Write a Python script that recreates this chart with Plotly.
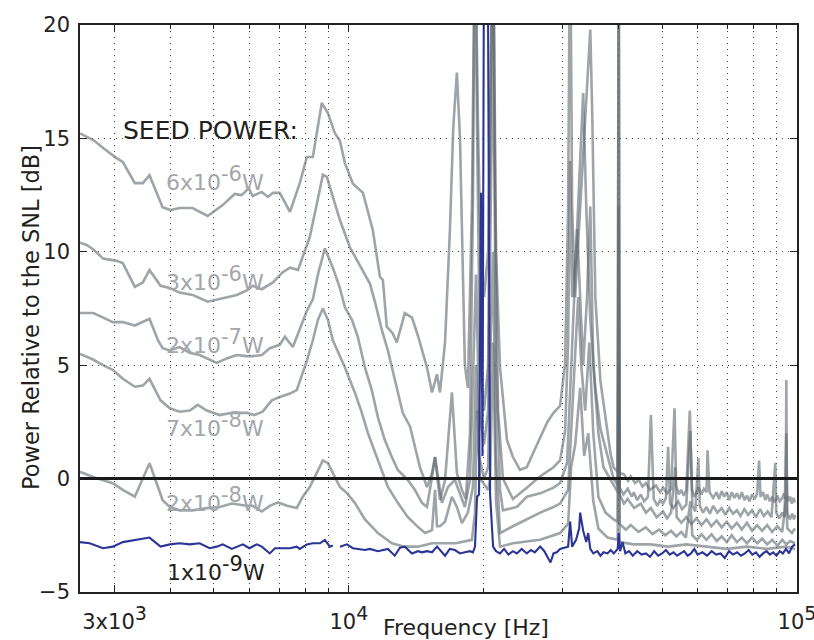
import plotly.graph_objects as go
import math

# ---------------- data (frequency in Hz, level in dB rel. SNL) ----------------
f_6e6 = [2512, 2690, 2830, 3030, 3130, 3330, 3470, 3590, 3840, 4000, 4190, 4480, 4840, 5230, 5560,
         5760, 5980, 6100, 6390, 6600, 6770, 7010, 7390, 7770, 8060, 8310, 8700, 8980, 9300, 9550,
         9800, 10210, 10750, 11310, 11730, 11910, 12150, 12530, 12790, 13330, 13830, 14260, 14940,
         15330, 15730, 15970, 16390, 16810, 17100, 17420, 17700, 18150, 18430, 18820, 19120, 19420,
         19720, 20030, 20450, 20660, 20980, 21300, 21740, 22530, 23230, 24090, 24950, 25730, 26720,
         27730, 28620, 29600, 30380, 30850, 31170, 31490, 31980, 32820, 33680, 34570, 34930, 35480,
         36420, 37380, 38370, 38970, 39800, 40000, 40200,
         41040, 42000, 42560, 43500, 44360, 45200, 45990, 47000, 48440, 49500, 50240, 51300, 52370,
         53300, 53750, 54500, 55170, 55900, 56620, 57650, 58300, 59000, 59640, 60400, 61210, 62000,
         62820, 63150, 63800, 65000, 66170, 67000, 67910, 68800, 69700, 70600, 71520, 72500, 73410,
         74400, 75340, 76300, 77330, 78300, 79370, 80500, 81500, 82300, 82900, 84000, 85000, 85800,
         87000, 88050, 89200, 90370, 91500, 92730, 93600, 94400, 94660, 94950, 95800, 96500, 97500,
         98200, 99000]
db_6e6 = [15.22, 14.93, 14.58, 14.13, 13.96, 13.03, 13.03, 13.38, 11.97, 11.84, 11.93, 11.93, 11.58, 12.06, 12.55,
          12.5, 12.8, 12.46, 12.64, 12.42, 12.6, 12.6, 11.76, 13.03, 14.18, 14.18, 16.56, 16.12, 15.24, 14.9,
          13.9, 13.0, 12.6, 10.95, 8.9, 8.75, 6.7, 6.4, 6.0, 7.3, 7.1, 6.3, 4.9,
          3.8, 4.6, 3.8, 6.0, 11.0, 15.5, 17.9, 15.0, 5.0, 4.0, 12.0, 25.0, 15.5,
          9.0, 8.0, 10.0, 15.5, 25.0, 10.0, 4.9, 1.7, 0.95, 0.38, 0.5, 1.1, 1.8,
          2.5, 2.9, 3.2, 5.1, 12.0, 25.0, 12.0, 8.0, 12.0, 16.0, 19.8, 16.0, 8.0,
          4.3, 2.6, 1.1, 0.5, 0.3, 25.0, 0.25,
          0.2, -0.1, 0.1, -0.2, -0.06, -0.35, -0.2, -0.5, -0.3, -0.6, -0.4, -0.65, -0.45,
          3.1, -0.3, -0.7, -0.5, -0.75, -0.5, 3.0, -0.5, -0.8, -0.6, -0.4, -0.7, -0.45,
          -0.6, 1.25, -0.6, -0.85, -0.6, -0.9, -0.55, -0.8, -0.6, -0.95, -0.6, -0.85, -0.65,
          -0.9, -0.6, -0.95, -0.75, -1.0, -0.7, -0.9, -0.65, 0.8, -0.8, -0.6, -0.95, -0.7,
          -1.0, -0.8, -1.05, -0.75, -1.0, -0.85, -0.65, -0.9, 4.35, -0.7, -1.0, -0.8, -1.1,
          -0.85, -1.05]

f_3e6 = [2512, 2600, 2690, 2830, 3030, 3130, 3330, 3470, 3590, 3800, 3985, 4190, 4480, 4840, 5230,
         5620, 5920, 6100, 6390, 6770, 7120, 7390, 7700, 7890, 8180, 8490, 8750, 8930, 9210, 9550,
         10050, 10580, 10860, 11140, 11430, 11850, 12220, 12660, 13190, 13690, 14040, 14410, 14940,
         15330, 15570, 15970, 16390, 16980, 17420, 17880, 18240, 18630, 18920, 19120, 19320, 19620,
         20030, 20450, 20660, 20980, 21190, 21520, 22070, 23230, 24950, 26720, 28620, 29600, 30380,
         30850, 31170, 31490, 32140, 32820, 33330, 33860, 34570, 35480, 36420, 37770, 38970, 39800,
         40000, 40200,
         41000, 41900, 42800, 43230, 44000, 44820, 45600, 46500, 47200, 47900, 48800, 49500, 50240,
         51000, 51570, 52100, 53000, 54300, 55400, 56620, 57800, 58400, 59300, 60260, 60700, 61700,
         62820, 63900, 65000, 66400, 67910, 69200, 70600, 72000, 73410, 74800, 76300, 77800, 79370,
         81000, 82730, 84300, 86000, 87700, 89440, 89900, 91300, 92730, 93800, 94660, 95150, 96400,
         97600, 98500, 99000]
db_3e6 = [10.4, 10.3, 10.1, 9.7, 9.6, 9.5, 8.45, 8.65, 9.2, 8.5, 8.4, 8.2, 8.1, 7.8, 7.95,
          8.1, 8.3, 8.5, 8.35, 8.65, 9.1, 9.3, 9.2, 9.75, 10.65, 12.15, 13.4, 13.3, 12.4, 11.4,
          10.2, 9.4, 9.0, 8.6, 7.8, 6.55, 5.65, 4.35, 2.9, 2.3, 1.4, 0.5, -0.37,
          0.25, 0.95, -0.95, -0.06, 3.8, 0.25, -0.5, -0.9, 2.0, 12.4, 25.0, 15.5, 5.0,
          3.0, 5.0, 15.5, 25.0, 13.0, 3.0, 0.0, -0.9, -0.4, 0.1, 0.5, 0.8, 2.1,
          6.0, 14.0, 8.0, 10.0, 14.0, 17.0, 12.0, 7.0, 4.0, 2.2, 1.0, 0.0, -0.3,
          25.0, -0.4,
          -0.7, -0.45, -0.8, -0.6, -0.95, -0.7, -1.0, -0.8, 2.8, -0.9, -1.2, -0.95, -1.1,
          -0.85, 1.4, -1.1, -1.3, -1.0, -1.35, -1.15, 2.1, -1.2, -1.45, 0.9, -1.2, -1.5,
          -1.25, -1.55, -1.2, -1.5, -1.3, -1.6, -1.3, -1.55, -1.4, -1.65, -1.35, -1.6, -1.4,
          -1.7, -1.35, -1.65, -1.45, -1.7, 0.7, -1.5, -1.75, -1.5, -1.7, 2.0, -1.5, -1.8,
          -1.55, -1.8, -1.6]

f_2e7 = [2512, 2690, 2830, 2973, 3130, 3330, 3590, 3750, 3840, 3985, 4190, 4414, 4645, 4820, 5070,
         5340, 5620, 5920, 6100, 6395, 6660, 7010, 7200, 7500, 7770, 8060, 8310, 8530, 8840, 9210,
         9550, 9800, 10160, 10470, 10860, 11250, 11610, 12030, 12470, 12860, 13540, 14040, 14560,
         14940, 15330, 15570, 16130, 16640, 17240, 17700, 18150, 18630, 18920, 19220, 19520, 20030,
         20450, 20660, 20980, 21300, 21740, 22070, 23720, 24950, 26720, 28620, 29600, 30690, 31170,
         31650, 32310, 32820, 33330, 34000, 34570, 35110, 36040, 36990, 38970, 39800, 40000, 40200,
         41100, 41900, 43300, 44820, 46000, 47200, 48600, 50240, 51300, 52370, 53470, 53900, 55200,
         56620, 58100, 59640, 61200, 62820, 64400, 66170, 67900, 69700, 71500, 73410, 75300, 77330,
         79400, 81450, 83600, 85800, 88000, 90370, 92700, 94660, 95150, 97400, 99000]
db_2e7 = [7.3, 7.3, 7.1, 6.9, 6.9, 6.75, 7.05, 6.1, 5.75, 5.65, 5.8, 5.55, 5.45, 5.3, 5.1,
          5.3, 5.45, 5.4, 5.4, 5.45, 5.75, 5.9, 6.25, 5.8, 6.55, 7.4, 7.9, 9.0, 10.15, 9.3,
          8.4, 7.55, 7.0, 6.25, 4.9, 3.9, 2.7, 1.7, 0.95, 0.38, -0.06, -0.5, -1.07,
          -1.25, 0.07, 0.95, -1.07, -0.37, -0.06, -0.64, -1.25, -0.06, 5.0, 9.0, 3.0, 1.5,
          3.0, 9.0, 20.0, 5.0, -0.5, -1.4, -1.25, -0.8, -0.65, -0.4, -0.2, 0.7, 4.0,
          7.0, 11.0, 8.0, 5.0, 8.0, 12.0, 5.0, 2.0, 0.5, -0.3, -0.6, 12.0, -0.7,
          -1.1, -0.9, -1.3, -1.1, -1.5, -1.3, -1.7, -1.45, -1.75, -1.5, 0.5, -1.7, -1.95,
          -1.7, -2.0, -1.75, -2.05, -1.8, -2.1, -1.85, -2.15, -1.9, -2.2, -1.95, -2.25, -1.95,
          -2.3, -2.05, -2.3, -2.05, -2.35, -2.1, -2.35, -0.8, -2.2, -2.4, -2.2]

f_7e8 = [2512, 2686, 2826, 2973, 3130, 3330, 3470, 3590, 3800, 3985, 4190, 4414, 4600, 4820, 5150,
         5480, 5920, 6150, 6420, 6730, 7010, 7390, 7650, 7890, 8060, 8310, 8530, 8750, 8980, 9210,
         9700, 9800, 10310, 10690, 11030, 11610, 12220, 12860, 13540, 14260, 14790, 15330, 15570,
         15730, 15970, 16390, 16980, 17420, 17880, 18430, 18920, 19220, 19520, 20030, 20450, 20660,
         20980, 21300, 21740, 23230, 24950, 26720, 28620, 29600, 30850, 31330, 31800, 32480, 33000,
         33680, 34400, 35110, 36040, 37380, 38970, 39800, 40000, 40200,
         41500, 42560, 44300, 45990, 47600, 49200, 50800, 52370, 53800, 55170, 56500, 57800, 58400,
         59800, 61210, 62800, 64470, 66200, 67910, 69700, 71520, 73400, 75340, 77300, 79370, 81500,
         83600, 85800, 88050, 90400, 92730, 94600, 96500, 99000]
db_7e8 = [5.5, 5.25, 5.0, 4.8, 4.4, 4.05, 4.1, 4.4, 3.45, 3.1, 2.95, 3.0, 3.25, 3.0, 2.8,
          2.9, 2.9, 2.8, 2.95, 3.45, 3.6, 3.75, 3.9, 4.65, 5.2, 6.1, 7.0, 7.5, 7.0, 6.1,
          5.1, 4.9, 3.8, 2.9, 2.0, 0.8, -0.37, -1.07, -1.7, -2.13, -2.4, -2.27, -0.5,
          -2.1, -2.1, -1.9, -0.8, -1.25, -1.96, -1.5, -0.37, 5.0, 1.0, 0.0, 0.5, 5.0,
          10.0, 1.0, -2.4, -2.1, -1.8, -1.5, -1.25, -1.1, -0.5, 2.0, 4.0, 8.0, 5.0,
          3.0, 6.0, 2.0, -0.8, -1.5, -1.8, -1.9, 5.0, -2.0,
          -2.25, -2.05, -2.35, -2.15, -2.45, -2.25, -2.5, -2.3, -2.55, -2.35, -2.6, -1.0, -2.5,
          -2.7, -2.45, -2.7, -2.45, -2.75, -2.55, -2.8, -2.5, -2.8, -2.6, -2.85, -2.6, -2.85,
          -2.65, -2.9, -2.7, -2.95, -2.7, -2.9, -2.75, -2.85]

f_2e8 = [2512, 2686, 2973, 3130, 3330, 3590, 3750, 3840, 3985, 4190, 4480, 4820, 5150, 5480, 5920,
         6100, 6395, 6660, 6950, 7280, 7650, 7890, 8180, 8530, 8750, 8980, 9210, 9550, 9900, 10310,
         10860, 11610, 12470, 13330, 14260, 15330, 16390, 17330, 18820, 19120, 19320, 19620, 20450,
         20660, 20980, 21300, 21740, 23230, 26720, 29600, 30850, 31330, 32000, 32820, 33500, 34210,
         35110, 36040, 37770, 39800, 40000, 40200, 43230, 47200, 51570, 56620, 62820, 69700, 77330,
         85800, 94660, 99000]
db_2e8 = [0.3, 0.07, -0.2, -0.5, -0.8, 0.68, -0.37, -0.95, -1.25, -1.4, -1.4, -1.3, -1.25, -1.1, -1.2,
          -1.2, -1.45, -1.2, -1.05, -1.2, -1.3, -0.8, -0.37, 0.38, 0.8, 0.68, 0.23, -0.37, -0.64, -1.07,
          -1.8, -2.4, -2.85, -3.0, -3.0, -2.85, -2.85, -2.85, -2.7, -1.5, 3.0, 0.0, -0.5,
          0.0, 6.0, -1.0, -3.0, -2.85, -2.7, -2.4, -2.0, 0.5, 1.5, 4.0, 1.0, 2.0,
          -1.0, -2.2, -2.6, -2.7, 3.0, -2.8, -2.9, -2.9, -3.0, -2.9, -3.0, -3.1, -3.0,
          -3.1, -3.0, -3.1]

f_1e9 = [2512, 2640, 2826, 2973, 3130, 3370, 3590, 3800, 3985, 4190, 4414, 4645, 4890, 5070, 5230,
         5480, 5620, 5800, 6000, 6230, 6395, 6660, 6840, 7010, 7390, 7650, 7770, 8060, 8310, 8620,
         8840, 9070, 9210, 9320, 9550, 9900, 10210, 10580, 10860, 11140, 11610, 12220, 12660, 13000,
         13330, 13830, 14260, 14560, 14940, 15330, 15730, 16390, 16800, 17240, 17700, 18150, 18630,
         18920, 19120, 19320, 19520, 19720, 19870, 20030, 20400, 20660, 20980, 21300, 21740, 22200,
         22700, 23230, 23700, 24300, 24950, 25500, 26000, 26720, 27300, 27730, 28180, 28620, 29100,
         29600, 30380, 30850, 31170, 31490, 32140, 32650, 32820, 33330, 33860, 34210, 34570, 35110,
         35850, 36420, 37000, 37770, 38400, 39000, 39800, 40000, 40300, 40800, 41400, 42200, 43000,
         44000, 45000, 46000, 47000, 48000, 49000, 50000, 51000, 52000, 53000, 54000, 55000, 56000,
         57000, 58000, 59000, 60000, 61500, 63000, 64500, 66000, 67500, 69000, 70500, 72000, 73500,
         75000, 76500, 78000, 79500, 81000, 82500, 84000, 85500, 87000, 88500, 90000, 91500, 93000,
         94500, 96000, 97500, 99000]
db_1e9 = [-2.8, -2.85, -3.07, -3.0, -2.8, -2.7, -2.6, -3.0, -2.9, -2.85, -2.9, -2.85, -3.07, -3.0, -2.9,
          -3.1, -3.0, -2.9, -3.07, -2.9, -3.0, -3.3, -3.07, -3.07, -3.07, -3.0, -3.1, -2.9, -2.85, -2.85,
          -2.7, -3.0, -2.95, None, -3.0, -2.9, -3.07, -3.1, -3.15, -3.1, -3.2, -3.1, -3.4, -3.05,
          -3.0, -3.3, -3.2, -3.25, -3.2, -3.25, -3.0, -3.4, -3.1, -3.15, -3.3, -3.25, -3.2,
          -3.25, -3.0, -0.8, -0.7, 12.6, 1.0, 25.0, 25.0, -0.7, -3.0, -3.2, -3.3, -3.1,
          -3.35, -3.2, -3.3, -3.1, -3.3, -3.15, -3.25, -3.0, -3.2, -3.45, -3.7, -3.3, -3.25,
          -3.1, -3.05, -3.0, -1.9, -3.0, -2.7, -2.2, -1.5, -2.3, -2.8, -2.4, -3.1, -3.3,
          -3.2, -3.4, -3.25, -3.3, -3.15, -3.3, -3.1, -2.4, -3.2, -2.8, -3.3, -3.2, -3.4,
          -3.2, -3.35, -3.3, -3.45, -3.2, -3.4, -3.3, -3.15, -3.35, -3.25, -3.4, -3.3, -3.2,
          -3.4, -3.3, -3.1, -3.35, -3.25, -3.4, -3.2, -3.35, -3.3, -3.5, -3.2, -3.35, -3.25,
          -3.4, -3.3, -3.15, -3.35, -3.25, -3.45, -3.3, -3.2, -3.35, -3.25, -3.4, -3.2, -3.3,
          -3.1, -3.3, -3.0, -2.9]

gray_series = [(f_2e8, db_2e8), (f_7e8, db_7e8), (f_2e7, db_2e7), (f_3e6, db_3e6), (f_6e6, db_6e6)]

label_mant = ["6x10", "3x10", "2x10", "7x10", "2x10"]
label_exp = ["-6", "-6", "-7", "-8", "-8"]
blue_mant, blue_exp = "1x10", "-9"
major_tickvals = [3000, 10000, 100000]
major_ticktext = ["3x10<sup><span style='font-size:19px'>3</span></sup>",
                  "10<sup><span style='font-size:19px'>4</span></sup>",
                  "10<sup><span style='font-size:19px'>5</span></sup>"]
minor_tickvals = [4000, 5000, 6000, 7000, 8000, 9000, 20000, 30000, 40000, 50000,
                  60000, 70000, 80000, 90000]
y_tickvals = [-5, 0, 5, 10, 15, 20]

# ---------------- layout geometry ----------------
W, H = 814, 640
L, R, T, B = 80, 797, 25, 592

def px(x):
    return (x - L) / (R - L)

def py(y):
    return (B - y) / (B - T)

FONT = "DejaVu Sans"
GRAY = "rgba(95,103,110,0.6)"
BLUE = "#2B3596"

fig = go.Figure()
for f, d in gray_series:
    fig.add_trace(go.Scatter(x=f, y=d, mode="lines", line=dict(color=GRAY, width=2.6),
                             showlegend=False, hoverinfo="skip"))
fig.add_trace(go.Scatter(x=f_1e9, y=db_1e9, mode="lines", line=dict(color=BLUE, width=2.1),
                         showlegend=False, hoverinfo="skip", connectgaps=False))

fig.add_shape(type="line", xref="paper", yref="y", x0=0, x1=1, y0=0, y1=0,
              line=dict(color="#1a1a1a", width=3), layer="above")

GRID = dict(showgrid=True, gridcolor="#444", griddash="1px,5px", gridwidth=1)
fig.update_xaxes(type="log", range=[math.log10(2512), 5], tickvals=major_tickvals,
                 ticktext=major_ticktext, ticks="inside", ticklen=7, tickcolor="#222",
                 showline=True, linecolor="#222", linewidth=1.5, mirror="ticks", zeroline=False,
                 tickfont=dict(family=FONT, size=21, color="#222"), ticklabelstandoff=10,
                 ticklabeloverflow="allow", automargin=False,
                 minor=dict(tickvals=minor_tickvals, ticks="inside", ticklen=4, tickcolor="#222",
                            **GRID),
                 **GRID)
fig.update_yaxes(range=[-5, 20], tickvals=y_tickvals, ticks="inside", ticklen=7, tickcolor="#222",
                 showline=True, linecolor="#222", linewidth=1.5, mirror="ticks", zeroline=False,
                 automargin=False,
                 tickfont=dict(family=FONT, size=21, color="#222"), ticklabelstandoff=4, **GRID)

def label(m, e, size):
    return f"{m}<sup><span style='font-size:{size}px'>{e}</span></sup>W"

ann = []
ann.append(dict(text="SEED POWER:", x=px(121), y=py(130), xanchor="left", yanchor="middle",
                font=dict(family=FONT, size=25, color="#231f20")))
label_y = [178, 278, 341, 424, 499]
for m, e, yy in zip(label_mant, label_exp, label_y):
    ann.append(dict(text=label(m, e, 21), x=px(164), y=py(yy), xanchor="left", yanchor="middle",
                    font=dict(family=FONT, size=22, color="#a3a7ab")))
ann.append(dict(text=label(blue_mant, blue_exp, 21), x=px(165), y=py(568), xanchor="left",
                yanchor="middle", font=dict(family=FONT, size=22, color="#231f20")))
ann.append(dict(text="Frequency [Hz]", x=px(466), y=py(627), xanchor="center", yanchor="middle",
                font=dict(family=FONT, size=22, color="#231f20")))
ann.append(dict(text="Power Relative to the SNL [dB]", x=px(31), y=py(318), xanchor="center",
                yanchor="middle", textangle=-90, font=dict(family=FONT, size=22.5, color="#231f20")))
for a in ann:
    a.update(xref="paper", yref="paper", showarrow=False)

fig.update_layout(width=W, height=H, margin=dict(l=L, r=W - R, t=T, b=H - B),
                  paper_bgcolor="white", plot_bgcolor="white", annotations=ann,
                  font=dict(family=FONT))
fig.write_html("out.html")
